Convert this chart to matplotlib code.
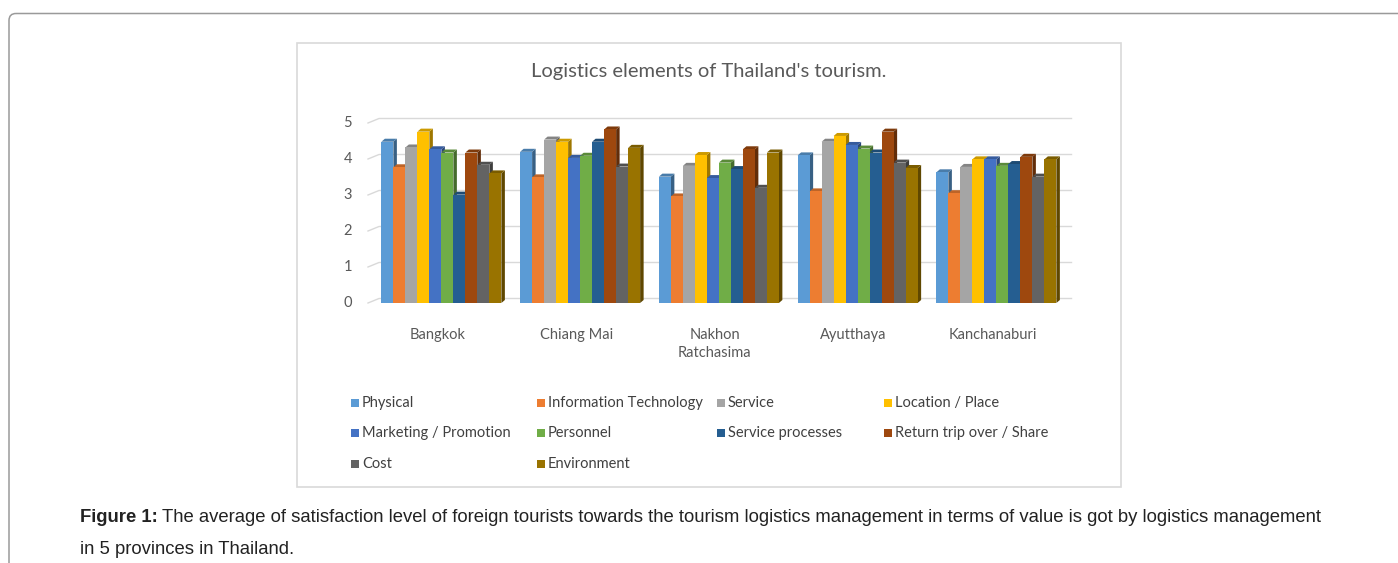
import numpy as np
import matplotlib
matplotlib.use('Agg')
import matplotlib.pyplot as plt
from matplotlib.colors import to_rgb
from matplotlib.patches import Rectangle, FancyBboxPatch

provinces = ['Bangkok', 'Chiang Mai', 'Nakhon\nRatchasima', 'Ayutthaya', 'Kanchanaburi']
elements = ['Physical', 'Information Technology', 'Service', 'Location / Place',
            'Marketing / Promotion', 'Personnel', 'Service processes',
            'Return trip over / Share', 'Cost', 'Environment']
colors = ['#5B9BD5', '#ED7D31', '#A5A5A5', '#FFC000', '#4472C4',
          '#70AD47', '#255E91', '#9E480E', '#636363', '#997300']

# one row per province, one column per element
bangkok = [4.48, 3.77, 4.32, 4.76, 4.27, 4.18, 3.01, 4.18, 3.84, 3.60]
chiang_mai = [4.20, 3.49, 4.54, 4.48, 4.03, 4.09, 4.48, 4.82, 3.79, 4.31]
nakhon = [3.51, 2.96, 3.81, 4.11, 3.47, 3.90, 3.72, 4.27, 3.20, 4.18]
ayutthaya = [4.10, 3.10, 4.48, 4.64, 4.39, 4.29, 4.18, 4.76, 3.90, 3.75]
kanchanaburi = [3.63, 3.05, 3.78, 3.99, 3.99, 3.81, 3.86, 4.06, 3.51, 3.99]
values = np.array([bangkok, chiang_mai, nakhon, ayutthaya, kanchanaburi])

yticks = [0, 1, 2, 3, 4, 5]

W, H = 1398, 563
fig = plt.figure(figsize=(W / 100, H / 100), dpi=100)

# page overlay in pixel coords
page = fig.add_axes([0, 0, 1, 1], zorder=0)
page.set_xlim(0, W)
page.set_ylim(H, 0)
page.axis('off')
page.add_patch(FancyBboxPatch((9, 13.5), 1420, 620,
                              boxstyle='round,pad=0,rounding_size=7',
                              fill=False, ec='#9a9a9a', lw=1.1, clip_on=False))
page.add_patch(Rectangle((297, 42.5), 823.5, 444.5, fill=False,
                         ec='#d9d9d9', lw=1.2))
page.text(708.5, 72, "Logistics elements of Thailand's tourism.",
          ha='center', va='center', fontsize=14.5, family='Lato',
          color='#595959')

# chart axes
px_x = 138.75   # pixels per category
px_y = 36.0     # pixels per unit
left_px, right_px, base_px = 368, 1071.5, 303
ymax = 5.25
ax = fig.add_axes([left_px / W, (H - base_px) / H,
                   (right_px - left_px) / W, ymax * px_y / H], zorder=1)
ax.patch.set_visible(False)
x0 = -0.5
ax.set_xlim(x0, x0 + (right_px - left_px) / px_x)
ax.set_ylim(0, ymax)
for s in ax.spines.values():
    s.set_visible(False)
ax.set_yticks([])

# back-wall gridlines with a short slanted floor/side piece
gdx, gdy = 11 / px_x, 4.5 / px_y
xr = ax.get_xlim()[1]
for v in yticks:
    ax.plot([x0, x0 + gdx, xr], [v, v + gdy, v + gdy], color='#d9d9d9',
            lw=1, zorder=1, clip_on=False)
    ax.text(x0 - 16 / px_x, v, str(v), ha='right', va='center',
            fontsize=10.5, family='Lato', color='#595959')

bar_w = 12 / px_x
bdx, bdy = 3.5 / px_x, 3 / px_y
group_off = -56 / px_x


def shade(c, f):
    r, g, b = to_rgb(c)
    return (r * f, g * f, b * f)


for c in range(len(provinces)):
    for k in range(len(elements)):
        v = values[c, k]
        xl = c + group_off + k * bar_w
        z = 2 + k * 0.1
        ax.bar(xl, v, width=bar_w, align='edge', color=colors[k],
               lw=0, zorder=z)
        ax.fill([xl + bar_w, xl + bar_w + bdx, xl + bar_w + bdx, xl + bar_w],
                [0, bdy, v + bdy, v], color=shade(colors[k], 0.62),
                lw=0, zorder=z - 0.01, clip_on=False)
        ax.fill([xl, xl + bar_w, xl + bar_w + bdx, xl + bdx],
                [v, v, v + bdy, v + bdy], color=shade(colors[k], 0.8),
                lw=0, zorder=z - 0.01, clip_on=False)

ax.set_xticks(range(len(provinces)))
ax.set_xticklabels(provinces, fontsize=10.5, family='Lato', color='#595959',
                   linespacing=1.35, va='top')
ax.tick_params(axis='x', length=0, pad=18)

# legend, laid out row by row like the original
leg_x = [362, 548, 728, 895]
leg_y = [403, 433, 464]
for i, name in enumerate(elements):
    r, col = divmod(i, 4)
    tx, ty = leg_x[col], leg_y[r]
    page.add_patch(Rectangle((tx - 11, ty - 4), 8, 8, color=colors[i], lw=0))
    page.text(tx, ty, name, ha='left', va='center', fontsize=10.5,
              family='Lato', color='#404040')

# caption
cap_font = dict(fontsize=13.3, family='Liberation Sans', color='#222222',
                va='center', ha='left')
t = page.text(80, 517, 'Figure 1:', fontweight='bold', **cap_font)
fig.canvas.draw()
bb = t.get_window_extent()
page.text(bb.x1 + 4, 517,
          'The average of satisfaction level of foreign tourists towards the '
          'tourism logistics management in terms of value is got by logistics '
          'management', **cap_font)
page.text(80, 549, 'in 5 provinces in Thailand.', **cap_font)

fig.savefig('out.png', dpi=100)
